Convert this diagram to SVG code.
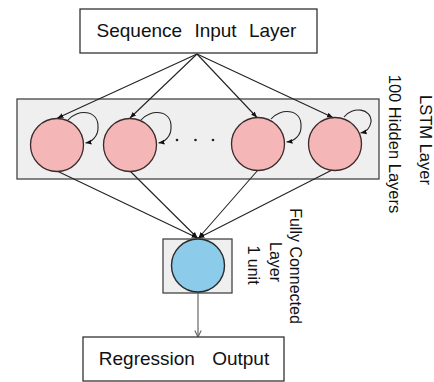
<svg xmlns="http://www.w3.org/2000/svg" width="434" height="382" viewBox="0 0 434 382">
<style>
.box{fill:#ffffff;stroke:#333333;stroke-width:1.3}
.panel{fill:#efefef;stroke:#444444;stroke-width:1.3}
.lstm{fill:#f4b6b6;stroke:#3a2a2a;stroke-width:1.3}
.fc{fill:#8ccbea;stroke:#2a2a2a;stroke-width:1.4}
.lbl{font-family:"Liberation Sans",Arial,sans-serif;fill:#111111}
.edge{fill:none;stroke:#222222;stroke-width:1.1}
.out{fill:none;stroke:#666666;stroke-width:1.2}
</style>
<defs>
<marker id="ah" viewBox="0 0 10 10" refX="10" refY="5" markerWidth="6" markerHeight="6" markerUnits="userSpaceOnUse" orient="auto"><path d="M0,1 L10,5 L0,9 z" fill="#111111"/></marker>
<marker id="chev" viewBox="0 0 10 10" refX="9" refY="5" markerWidth="8" markerHeight="8" markerUnits="userSpaceOnUse" orient="auto"><path d="M1,1 L9,5 L1,9" fill="none" stroke="#666666" stroke-width="1.4"/></marker>
</defs>
<rect width="434" height="382" fill="#ffffff"/>

<g id="lstm-layer">
<rect class="panel" x="17" y="99" width="362" height="80"/>
<g class="lbl" font-size="16.5" text-anchor="middle">
<text transform="translate(420,140) rotate(90)">LSTM Layer</text>
<text transform="translate(389,144) rotate(90)">100 Hidden Layers</text>
</g>
</g>

<g id="fc-layer">
<rect class="panel" x="163" y="239" width="69" height="54"/>
<g class="lbl" font-size="16" text-anchor="middle">
<text transform="translate(290,266) rotate(90)">Fully Connected</text>
<text transform="translate(270,262) rotate(90)">Layer</text>
<text transform="translate(247.5,265) rotate(90)">1 unit</text>
</g>
</g>

<g id="connectors">
<line class="edge" x1="197" y1="54" x2="57.5" y2="118" marker-end="url(#ah)"/>
<line class="edge" x1="197" y1="54" x2="130" y2="118" marker-end="url(#ah)"/>
<line class="edge" x1="197" y1="54" x2="257" y2="117.5" marker-end="url(#ah)"/>
<line class="edge" x1="197" y1="54" x2="333" y2="117.5" marker-end="url(#ah)"/>
<path class="edge" d="M68,120 C77,109 99,109 98,128 C98,136 92,142 85.5,143" marker-end="url(#ah)"/>
<path class="edge" d="M141,120 C150,109 172,109 171,128 C171,136 165,142 158.5,143" marker-end="url(#ah)"/>
<path class="edge" d="M271,119 C280,108 302,108 301,127 C301,135 295,141 286.5,142" marker-end="url(#ah)"/>
<path class="edge" d="M344,117 C352,106 372,108 371,122 C370,128 366,132 360.5,133" marker-end="url(#ah)"/>
<line class="edge" x1="57" y1="171" x2="197.5" y2="238" marker-end="url(#ah)"/>
<line class="edge" x1="130" y1="171" x2="197.5" y2="238" marker-end="url(#ah)"/>
<line class="edge" x1="258" y1="170" x2="198.5" y2="238" marker-end="url(#ah)"/>
<line class="edge" x1="332" y1="170" x2="198.5" y2="238" marker-end="url(#ah)"/>
<line class="out" x1="198" y1="292" x2="198" y2="337" marker-end="url(#chev)"/>
</g>

<g id="input-node">
<rect class="box" x="80" y="9" width="237" height="44"/>
<text class="lbl" x="196.5" y="37" font-size="19" text-anchor="middle" word-spacing="7">Sequence Input Layer</text>
</g>

<g id="lstm-cell-1"><circle class="lstm" cx="57" cy="145" r="26.5"/></g>
<g id="lstm-cell-2"><circle class="lstm" cx="130" cy="145" r="26.5"/></g>
<g id="ellipsis">
<circle cx="177" cy="140" r="1.3" fill="#222222"/>
<circle cx="195.5" cy="140" r="1.3" fill="#222222"/>
<circle cx="213" cy="140" r="1.3" fill="#222222"/>
</g>
<g id="lstm-cell-3"><circle class="lstm" cx="258" cy="144" r="26.5"/></g>
<g id="lstm-cell-4"><circle class="lstm" cx="335" cy="144" r="26.5"/></g>

<g id="fc-unit"><circle class="fc" cx="198" cy="265.5" r="26.5"/></g>

<g id="output-node">
<rect class="box" x="83" y="337" width="201" height="44"/>
<text class="lbl" x="184" y="365" font-size="19" text-anchor="middle" word-spacing="12">Regression Output</text>
</g>
</svg>
